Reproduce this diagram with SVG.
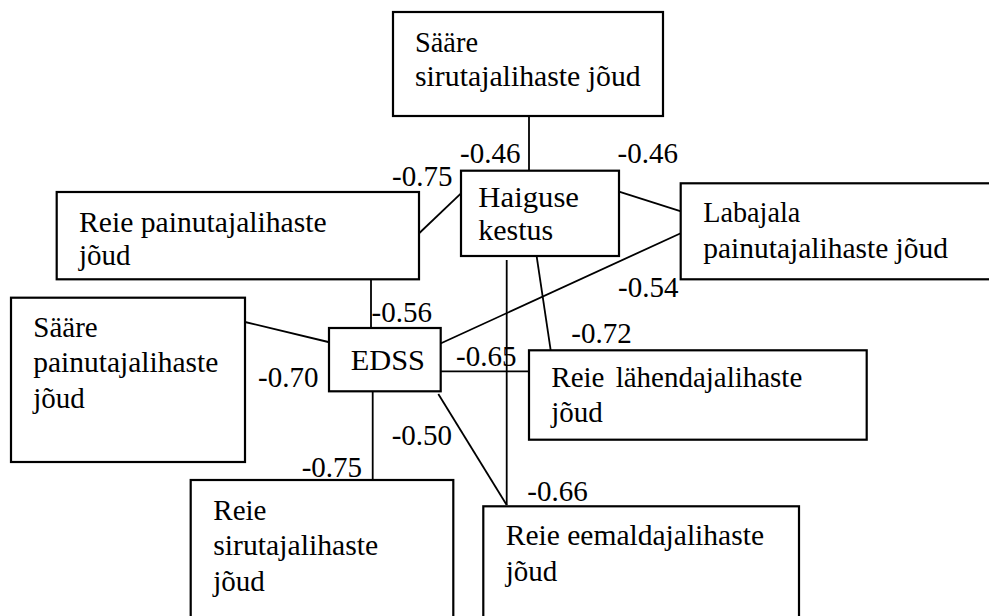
<svg xmlns="http://www.w3.org/2000/svg" width="989" height="616" viewBox="0 0 989 616">
<style>
.box{fill:#fff;stroke:#000;stroke-width:2.2}
.ln{stroke:#000;stroke-width:1.8;fill:none}
text{font-family:'Liberation Serif','Times New Roman',serif;font-size:29px;fill:#000}
.num{font-size:29px}
</style>
<rect width="989" height="616" fill="#fff"/>
<g id="connectors">
<line class="ln" x1="529" y1="116" x2="529" y2="171"/>
<line class="ln" x1="417.3" y1="235" x2="461" y2="193.3"/>
<line class="ln" x1="619" y1="191.7" x2="687.3" y2="213.3"/>
<line class="ln" x1="436.7" y1="345.3" x2="684" y2="231.7"/>
<line class="ln" x1="536.7" y1="256.7" x2="550.7" y2="350.3"/>
<line class="ln" x1="506.7" y1="260" x2="506.7" y2="505"/>
<line class="ln" x1="371" y1="279" x2="371" y2="328"/>
<line class="ln" x1="245" y1="322" x2="328.3" y2="342"/>
<line class="ln" x1="440.7" y1="371.3" x2="529" y2="371.3"/>
<line class="ln" x1="372.7" y1="391.3" x2="372.7" y2="480"/>
<line class="ln" x1="438.3" y1="394" x2="506.7" y2="505"/>
</g>
<g id="n-saare-sirutaja">
<rect class="box" x="393" y="12" width="270" height="104"/>
<text x="415" y="52" textLength="63" lengthAdjust="spacingAndGlyphs">Sääre</text>
<text x="415" y="86" textLength="225.7" lengthAdjust="spacingAndGlyphs">sirutajalihaste jõud</text>
</g>
<g id="n-haiguse">
<rect class="box" x="461" y="170.7" width="158" height="85.3"/>
<text x="478.3" y="206.7" textLength="100.7" lengthAdjust="spacingAndGlyphs">Haiguse</text>
<text x="478.3" y="240" textLength="75" lengthAdjust="spacingAndGlyphs">kestus</text>
</g>
<g id="n-reie-painutaja">
<rect class="box" x="56.7" y="192" width="362.3" height="87.3"/>
<text x="79" y="231.7" textLength="247.7" lengthAdjust="spacingAndGlyphs">Reie painutajalihaste</text>
<text x="79" y="265">jõud</text>
</g>
<g id="n-labajala">
<rect class="box" x="680.7" y="183.3" width="330" height="96"/>
<text x="703.3" y="221.7" textLength="97" lengthAdjust="spacingAndGlyphs">Labajala</text>
<text x="703.3" y="258.3" textLength="244.7" lengthAdjust="spacingAndGlyphs">painutajalihaste jõud</text>
</g>
<g id="n-saare-painutaja">
<rect class="box" x="11" y="297.7" width="234" height="164.3"/>
<text x="33.3" y="337.3">Sääre</text>
<text x="33.3" y="372" textLength="185" lengthAdjust="spacingAndGlyphs">painutajalihaste</text>
<text x="33.3" y="408">jõud</text>
</g>
<g id="n-edss">
<rect class="box" x="329" y="328" width="111.7" height="63.3"/>
<text x="350.7" y="369.7" textLength="74.3" lengthAdjust="spacingAndGlyphs">EDSS</text>
</g>
<g id="n-reie-lahendaja">
<rect class="box" x="529" y="350.3" width="337.7" height="89.4"/>
<text x="551.3" y="387.3">Reie</text>
<text x="615.7" y="387.3" textLength="186.6" lengthAdjust="spacingAndGlyphs">lähendajalihaste</text>
<text x="551.3" y="422.3">jõud</text>
</g>
<g id="n-reie-sirutaja">
<rect class="box" x="190.7" y="480" width="262.6" height="150"/>
<text x="213.3" y="519.7">Reie</text>
<text x="213.3" y="554.7" textLength="165" lengthAdjust="spacingAndGlyphs">sirutajalihaste</text>
<text x="213.3" y="590.7">jõud</text>
</g>
<g id="n-reie-eemaldaja">
<rect class="box" x="483.3" y="506.3" width="315.7" height="124"/>
<text x="505.7" y="545.3" textLength="258.3" lengthAdjust="spacingAndGlyphs">Reie eemaldajalihaste</text>
<text x="505.7" y="580.7">jõud</text>
</g>
<g id="labels">
<text class="num" x="460" y="163.3">-0.46</text>
<text class="num" x="617.5" y="163.3">-0.46</text>
<text class="num" x="392" y="186">-0.75</text>
<text class="num" x="371.5" y="321.5">-0.56</text>
<text class="num" x="618" y="296.7">-0.54</text>
<text class="num" x="571.3" y="343">-0.72</text>
<text class="num" x="456" y="366">-0.65</text>
<text class="num" x="258" y="387.3">-0.70</text>
<text class="num" x="391.7" y="444.7">-0.50</text>
<text class="num" x="301.7" y="477.3">-0.75</text>
<text class="num" x="527.3" y="500.7">-0.66</text>
</g>
</svg>
